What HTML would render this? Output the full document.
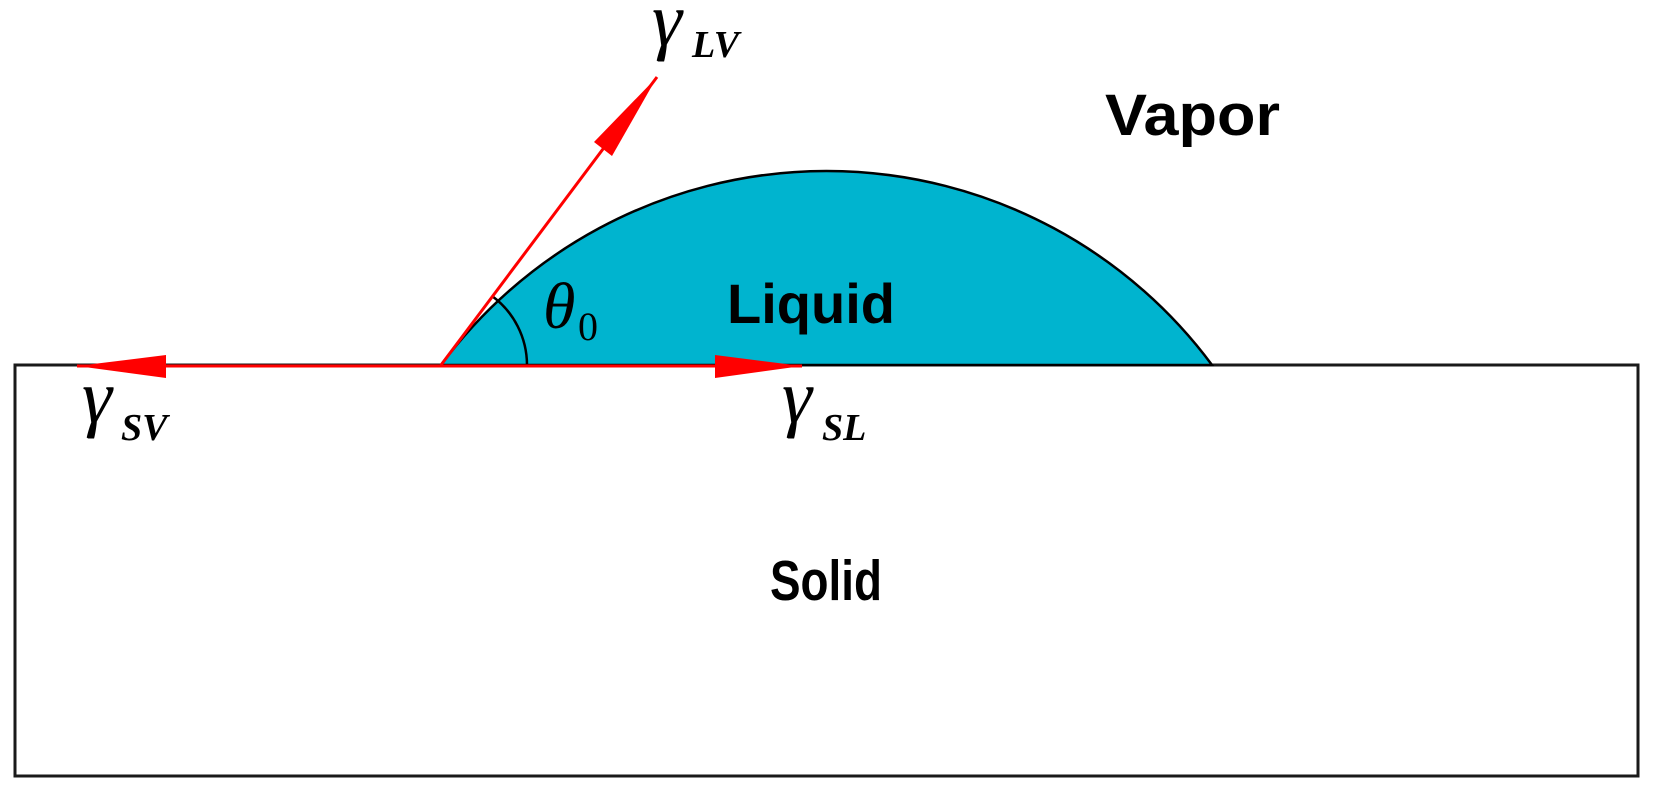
<!DOCTYPE html>
<html><head><meta charset="utf-8"><style>
html,body{margin:0;padding:0;background:#fff;}
svg{display:block;}
</style></head><body>
<svg width="1655" height="797" viewBox="0 0 1655 797" xmlns="http://www.w3.org/2000/svg">
<rect x="15" y="365" width="1623" height="411" fill="#fff" stroke="#1a1a1a" stroke-width="3"/>
<path d="M441,365 A480,480 0 0 1 1212,365 Z" fill="#00b4cf" stroke="#000" stroke-width="2.5"/>
<path d="M527,365 A86,86 0 0 0 492,296" fill="none" stroke="#000" stroke-width="2.5"/>
<g stroke="#ff0000" stroke-width="3" fill="none">
<line x1="441" y1="365" x2="657" y2="77"/>
<line x1="441" y1="366" x2="77" y2="366"/>
<line x1="441" y1="366" x2="802" y2="366"/>
</g>
<g fill="#ff0000">
<polygon points="657,77 612,156 594,142"/>
<polygon points="77,366 166,355 166,378"/>
<polygon points="802,366 715,355 715,378"/>
</g>
<g font-family="Liberation Sans, sans-serif" font-weight="bold" fill="#000">
<text x="1105" y="135" font-size="58" textLength="175" lengthAdjust="spacingAndGlyphs">Vapor</text>
<text x="727" y="323" font-size="56" textLength="168" lengthAdjust="spacingAndGlyphs">Liquid</text>
<text x="770" y="600" font-size="57" textLength="112" lengthAdjust="spacingAndGlyphs">Solid</text>
</g>
<g font-family="Liberation Serif, serif" font-style="italic" fill="#000">
<text x="543" y="328" font-size="66">θ</text>
<text x="578" y="340" font-size="40" font-style="normal">0</text>
<text x="652" y="45" font-size="76">γ</text>
<text x="692" y="57" font-size="38" font-weight="bold">LV</text>
<text x="782" y="422" font-size="76">γ</text>
<text x="822" y="440" font-size="38" font-weight="bold">SL</text>
<text x="82" y="422" font-size="76">γ</text>
<text x="121" y="440" font-size="38" font-weight="bold">SV</text>
</g>
</svg>
</body></html>
